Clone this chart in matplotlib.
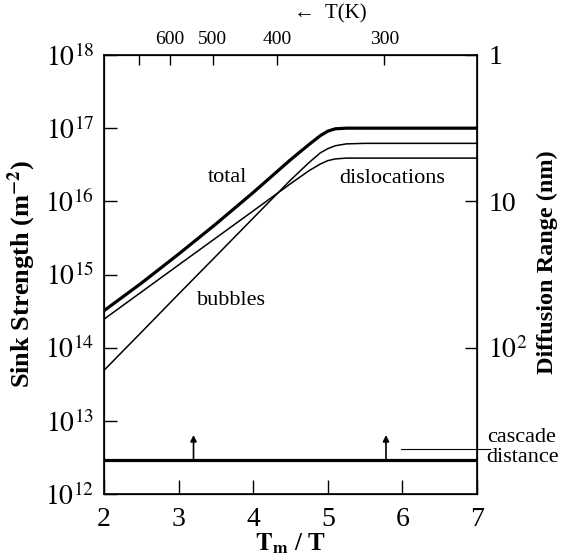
import matplotlib
matplotlib.use('Agg')
import matplotlib.pyplot as plt
import numpy as np
from matplotlib.ticker import NullLocator

plt.rcParams['font.family'] = ['Liberation Serif', 'DejaVu Serif']
plt.rcParams['mathtext.fontset'] = 'stix'

# ---- data ----
tm_over_t = [2.0, 2.5, 3.0, 3.5, 4.0, 4.5, 4.75, 4.9, 5.0, 5.1, 5.25, 5.5, 6.0, 7.0]
total = [3.2e14, 7.6e14, 1.9e15, 4.9e15, 1.32e16, 3.7e16, 6.0e16, 7.9e16, 9.1e16,
         9.8e16, 1.0e17, 1.0e17, 1.0e17, 1.0e17]
bubbles = [4.9e13, 1.62e14, 5.4e14, 1.78e15, 5.9e15, 1.95e16, 3.4e16, 4.6e16, 5.25e16,
           5.75e16, 6.1e16, 6.2e16, 6.2e16, 6.2e16]
dislocations = [2.45e14, 5.75e14, 1.35e15, 3.16e15, 7.4e15, 1.74e16, 2.63e16, 3.24e16,
                3.6e16, 3.8e16, 3.9e16, 3.9e16, 3.9e16, 3.9e16]
cascade_x = [2.0, 7.0]
cascade = [2.95e12, 2.95e12]
arrow_x = [3.2, 5.78]
arrow_top = 6.4e12

Tm = 1728.0
top_T_ticks = [700, 600, 500, 400, 300]
top_T_labels = ['', '600', '500', '400', '300']
left_ticks = [1e12, 1e13, 1e14, 1e15, 1e16, 1e17, 1e18]
left_labels = [r'$10^{12}$', r'$10^{13}$', r'$10^{14}$', r'$10^{15}$',
               r'$10^{16}$', r'$10^{17}$', r'$10^{18}$']
right_ticks = [1e18, 1e16, 1e14]
right_labels = ['1', '10', r'$10^{2}$']
x_ticks = [2, 3, 4, 5, 6, 7]

fig = plt.figure(figsize=(5.62, 5.57), dpi=100)
ax = fig.add_axes([104/562, 63/557, 373/562, 439/557])

ax.plot(tm_over_t, total, color='black', lw=2.3, solid_capstyle='butt')
ax.plot(tm_over_t, bubbles, color='black', lw=1.1)
ax.plot(tm_over_t, dislocations, color='black', lw=1.1)
ax.plot(cascade_x, cascade, color='black', lw=2.3, solid_capstyle='butt')

for xa in arrow_x:
    ax.annotate('', xy=(xa, arrow_top), xytext=(xa, cascade[0]),
                arrowprops=dict(arrowstyle='-|>', color='black', lw=1.2,
                                mutation_scale=9, shrinkA=0, shrinkB=0))

# leader line for "cascade distance"
ax.plot([5.98, 7.17], [4.15e12, 4.15e12], color='black', lw=0.8, clip_on=False)
ax.text(7.13, 4.3e12, 'cascade\ndistance', fontsize=16, ha='left', va='center',
        linespacing=1.1, clip_on=False)

ax.text(3.65, 2.15e16, 'total', fontsize=16, ha='center', va='center')
ax.text(5.86, 2.05e16, 'dislocations', fontsize=16, ha='center', va='center')
ax.text(3.71, 4.4e14, 'bubbles', fontsize=16, ha='center', va='center')

ax.set_yscale('log')
ax.set_xlim(2, 7)
ax.set_ylim(1e12, 1e18)
ax.set_yticks(left_ticks)
ax.set_yticklabels(left_labels)
ax.yaxis.set_minor_locator(NullLocator())
ax.set_xticks(x_ticks)
ax.set_xticklabels([str(v) for v in x_ticks])
ax.tick_params(axis='y', direction='in', length=9, width=1, labelsize=20, pad=7)
ax.tick_params(axis='x', direction='in', length=10, width=1, labelsize=20, pad=9)
for s in ax.spines.values():
    s.set_linewidth(1.2)

ax.set_ylabel(r'Sink Strength (m$^{\mathbf{-2}}$)', fontsize=19, fontweight='bold')
ax.yaxis.set_label_coords(-(104 - 38) / 373, 0.5)
ax.set_xlabel(r'$\mathbf{T_m}$ / T', fontsize=18, fontweight='bold')
ax.xaxis.set_label_coords((290 - 104) / 373, -(531 - 494) / 439)

# top axis: temperature
ax2 = ax.twiny()
ax2.set_xlim(2, 7)
ax2.set_xticks([Tm / t for t in top_T_ticks])
ax2.set_xticklabels(top_T_labels)
ax2.xaxis.set_minor_locator(NullLocator())
ax2.tick_params(axis='x', direction='in', length=7, width=1, labelsize=14, pad=5)
fig.text(330/562, 1 - 14/557, '\u2190  T(K)', fontsize=15, ha='center', va='center')

# right axis: diffusion range
ax3 = ax.twinx()
ax3.set_yscale('log')
ax3.set_ylim(1e12, 1e18)
ax3.set_yticks(right_ticks)
ax3.set_yticklabels(right_labels)
ax3.yaxis.set_minor_locator(NullLocator())
ax3.tick_params(axis='y', direction='in', length=9, width=1, labelsize=20, pad=8)
ax3.set_ylabel('Diffusion Range (nm)', fontsize=17.5, fontweight='bold')
ax3.yaxis.set_label_coords((537 - 104) / 373, (494 - 262) / 439)

fig.savefig('out.png', dpi=100)
